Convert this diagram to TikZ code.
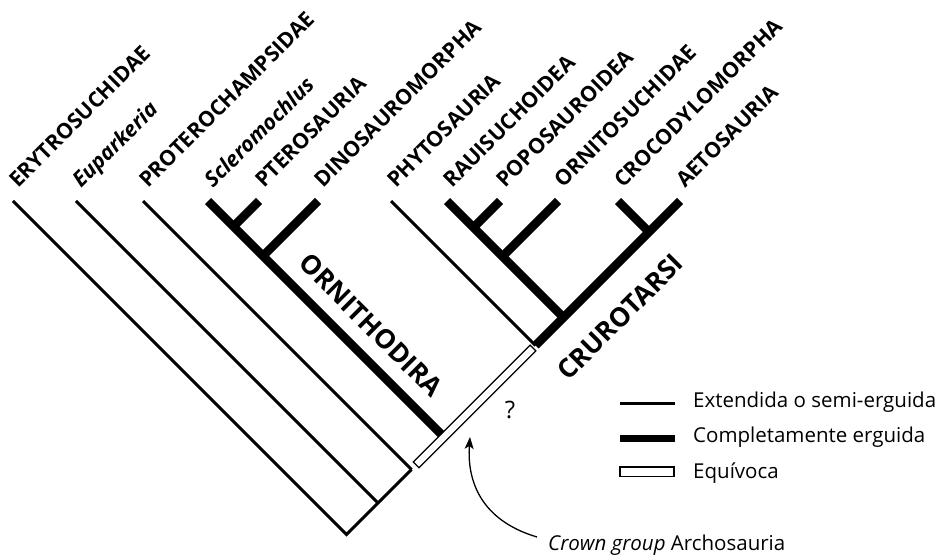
\documentclass[tikz,border=0pt]{standalone}
\usepackage{fontspec}
\setmainfont{Open Sans}
\usetikzlibrary{arrows.meta,
  calc,
  positioning
}

\tikzset{
  thinbranch/.style={line width=3pt},
  thickbranch/.style={line width=8.5pt},
  taxon/.style={rotate=45, anchor=base west, inner sep=0pt,
    font=\fontsize{21.3}{21.3}\selectfont\bfseries},
  cladename/.style={inner sep=0pt, font=\fontsize{26.5}{26.5}\selectfont\bfseries},
  legendtext/.style={anchor=base west, inner sep=0pt,
    font=\fontsize{20.5}{20.5}\selectfont}
}

\begin{document}
\begin{tikzpicture}[x=1pt, y=-1pt, line cap=butt]
  \useasboundingbox (0,0) rectangle (943,556);

  % tips, all on one row
  \coordinate (erytro) at (13,201);
  \coordinate (eupark) at (76,201);
  \coordinate (protero) at (143,201);
  \coordinate (sclero) at (208,201);
  \coordinate (ptero) at (259,201);
  \coordinate (dino) at (318,201);
  \coordinate (phyto) at (391,201);
  \coordinate (rauis) at (447,201);
  \coordinate (popo) at (500,201);
  \coordinate (ornito) at (558,201);
  \coordinate (croco) at (618,201);
  \coordinate (aeto) at (680,201);

  % inner nodes
  \coordinate (root) at (346.5,534.5);
  \coordinate (n1) at (378,503);
  \coordinate (n2) at (411.5,469.5);
  \coordinate (n3) at (444,437);
  \coordinate (orni) at (263,256);
  \coordinate (n4) at (233.5,226.5);
  \coordinate (cruro) at (535.5,345.5);
  \coordinate (n5) at (563.5,317.5);
  \coordinate (n6) at (502.5,256.5);
  \coordinate (n7) at (473.5,227.5);
  \coordinate (n8) at (649,232);

  % extended / semi-erect
  \draw[thinbranch] (erytro) -- (root) -- (n2);
  \draw[thinbranch] (eupark) -- (n1);
  \draw[thinbranch] (protero) -- (n2);
  \draw[thinbranch] (phyto) -- (cruro);

  % fully erect
  \draw[thickbranch] (sclero) -- (n3);
  \draw[thickbranch] (ptero) -- (n4);
  \draw[thickbranch] (dino) -- (orni);
  \draw[thickbranch] (cruro) -- (aeto);
  \draw[thickbranch] (rauis) -- (n5);
  \draw[thickbranch] (popo) -- (n7);
  \draw[thickbranch] (ornito) -- (n6);
  \draw[thickbranch] (croco) -- (n8);

  % equivocal
  \draw[line width=9.5pt, shorten <=6pt, shorten >=3pt] (n2) -- (cruro);
  \draw[white, line width=6.5pt, shorten <=7.4pt, shorten >=4.4pt] (n2) -- (cruro);

  % names
  \node[taxon] (erytrolab) at ($(erytro)+(5,-12)$) {ERYTROSUCHIDAE};
  \node[taxon] (euparklab) at ($(eupark)+(5,-12)$) {\itshape Euparkeria};
  \node[taxon] (proterolab) at ($(protero)+(5,-12)$) {PROTEROCHAMPSIDAE};
  \node[taxon] (sclerolab) at ($(sclero)+(5,-12)$) {\itshape Scleromochlus};
  \node[taxon] (pterolab) at ($(ptero)+(5,-12)$) {PTEROSAURIA};
  \node[taxon] (dinolab) at ($(dino)+(5,-12)$) {DINOSAUROMORPHA};
  \node[taxon] (phytolab) at ($(phyto)+(5,-12)$) {PHYTOSAURIA};
  \node[taxon] (rauislab) at ($(rauis)+(5,-12)$) {RAUISUCHOIDEA};
  \node[taxon] (popolab) at ($(popo)+(5,-12)$) {POPOSAUROIDEA};
  \node[taxon] (ornitolab) at ($(ornito)+(5,-12)$) {ORNITOSUCHIDAE};
  \node[taxon] (crocolab) at ($(croco)+(5,-12)$) {CROCODYLOMORPHA};
  \node[taxon] (aetolab) at ($(aeto)+(5,-12)$) {AETOSAURIA};

  \node[cladename, rotate=-45] (ornilab) at (371,325) {ORNITHODIRA};
  \node[cladename, rotate=45] (crurolab) at (620,317) {CRUROTARSI};

  \node[inner sep=0pt, font=\fontsize{24}{24}\selectfont] (quest) at (510,410) {?};

  % crown group
  \node[legendtext] (crown) at (548,550) {\itshape Crown group\/\upshape{} Archosauria};
  \coordinate (crownfoot) at (537,537);
  \coordinate (crowntip) at (470,437);
  \draw[-{Stealth[length=12pt, width=9pt, inset=3pt]}, line width=1.3pt]
    (crownfoot) .. controls (480,520) and (467,480) .. (crowntip);

  % legend
  \node[legendtext] (legthin) at (693,407) {Extendida o semi-erguida};
  \node[legendtext] (legthick) at (693,442) {Completamente erguida};
  \node[legendtext] (legequiv) at (693,478) {Equívoca};
  \draw[thinbranch] ($(legthin.base west)+(-73,-4)$) -- ++(55,0);
  \draw[line width=7pt] ($(legthick.base west)+(-73,-4)$) -- ++(55,0);
  \draw[line width=1.3pt, fill=white] ($(legequiv.base west)+(-73,-11)$) rectangle ++(54,9.5);
\end{tikzpicture}
\end{document}
